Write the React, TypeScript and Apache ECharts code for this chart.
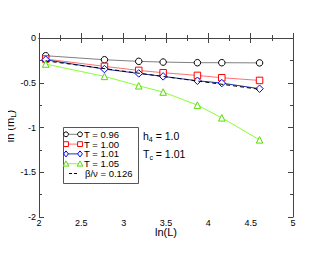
import React, { useEffect, useRef } from "react";
import * as echarts from "echarts";

const lnL = [2.079, 2.773, 3.178, 3.466, 3.871, 4.159, 4.605];
const t096 = [-0.198, -0.243, -0.261, -0.269, -0.276, -0.276, -0.278];
const t100 = [-0.235, -0.317, -0.362, -0.388, -0.418, -0.444, -0.474];
const t101 = [-0.243, -0.347, -0.396, -0.429, -0.478, -0.504, -0.567];
const t105 = [-0.291, -0.429, -0.534, -0.604, -0.75, -0.892, -1.138];
const fitX = [2.079, 4.605];
const fitY = [-0.255, -0.573];
const seriesNames = ["T = 0.96", "T = 1.00", "T = 1.01", "T = 1.05", "β/ν = 0.126"];

const FONT = "Liberation Sans";

const COLORS = ["#000000", "#ff0000", "#0000ff", "#55dd00"];
const LINECOLORS = ["#808080", "#ff7070", "#2233aa", "#88ff33"];
const SYMBOLS = ["circle", "rect", "diamond", "triangle"];

function legendMarker(kind: number, cx: number, cy: number, color: string) {
  const s = 2.4;
  const style = { fill: "#fff", stroke: color, lineWidth: 1 };
  if (kind === 0) return { type: "circle", shape: { cx, cy, r: s }, style, z: 101 };
  if (kind === 1) return { type: "rect", shape: { x: cx - s, y: cy - s, width: 2 * s, height: 2 * s }, style, z: 101 };
  if (kind === 2)
    return {
      type: "polygon",
      shape: { points: [[cx, cy - s - 0.6], [cx + s, cy], [cx, cy + s + 0.6], [cx - s, cy]] },
      style,
      z: 101,
    };
  return {
    type: "polygon",
    shape: { points: [[cx, cy - s - 0.4], [cx + s + 0.4, cy + s], [cx - s - 0.4, cy + s]] },
    style,
    z: 101,
  };
}

export default function App() {
  const ref = useRef<HTMLDivElement>(null);
  useEffect(() => {
    const chart = echarts.init(ref.current!, null, { renderer: "svg" });
    const pts = (ys: number[]) => lnL.map((x, i) => [x, ys[i]]);
    const axisCommon = {
      axisLine: { show: true, lineStyle: { color: "#444", width: 1 } },
      axisTick: { show: true, inside: true, length: 5, lineStyle: { color: "#444" } },
      minorTick: { show: true, splitNumber: 2, length: 3, lineStyle: { color: "#444" } },
      splitLine: { show: false },
    };
    const xBase = { ...axisCommon, type: "value" as const, min: 2, max: 5, interval: 0.5 };
    const yBase = { ...axisCommon, type: "value" as const, min: -2, max: 0, interval: 0.5 };
    const mk = (i: number, ys: number[]) => ({
      name: seriesNames[i],
      type: "line",
      data: pts(ys),
      symbol: SYMBOLS[i],
      symbolSize: i === 2 ? 7.5 : 6.5,
      itemStyle: { color: "#ffffff", borderColor: COLORS[i], borderWidth: 1 },
      lineStyle: { color: LINECOLORS[i], width: 1 },
    });

    const legendLeft = 63.5;
    const legendTop = 127.5;
    const rowY = [134.3, 144.1, 153.9, 163.7, 173.5];
    const legendItems: any[] = [
      {
        type: "rect",
        shape: { x: legendLeft, y: legendTop, width: 75, height: 56 },
        style: { fill: "#fff", stroke: "#555", lineWidth: 1 },
        z: 100,
      },
    ];
    for (let i = 0; i < 4; i++) {
      legendItems.push({
        type: "line",
        shape: { x1: 66, y1: rowY[i], x2: 80, y2: rowY[i] },
        style: { stroke: LINECOLORS[i], lineWidth: 1 },
        z: 101,
      });
      legendItems.push(legendMarker(i, 66, rowY[i], COLORS[i]));
      legendItems.push(legendMarker(i, 80, rowY[i], COLORS[i]));
    }
    legendItems.push({
      type: "line",
      shape: { x1: 69, y1: rowY[4], x2: 77, y2: rowY[4] },
      style: { stroke: "#000", lineWidth: 1, lineDash: [3, 2] },
      z: 101,
    });
    for (let i = 0; i < 5; i++) {
      legendItems.push({
        type: "text",
        x: i === 4 ? 85 : 84,
        y: rowY[i],
        style: {
          text: seriesNames[i],
          verticalAlign: "middle",
          fontSize: 9.5,
          lineHeight: 9,
          fontFamily: FONT,
          fill: "#000",
        },
        z: 101,
      });
    }

    chart.setOption({
      animation: false,
      textStyle: { fontFamily: FONT },
      grid: { left: 39, right: 37, top: 38, bottom: 38 },
      xAxis: [
        {
          ...xBase,
          position: "bottom",
          axisLabel: { fontSize: 9, color: "#000", margin: 1, fontFamily: FONT },
        },
        { ...xBase, position: "top", axisLabel: { show: false } },
      ],
      yAxis: [
        {
          ...yBase,
          position: "left",
          axisLabel: { fontSize: 9, color: "#000", margin: 3, fontFamily: FONT },
        },
        { ...yBase, position: "right", axisLabel: { show: false } },
      ],
      series: [
        mk(0, t096),
        mk(1, t100),
        mk(2, t101),
        mk(3, t105),
        {
          name: seriesNames[4],
          type: "line",
          data: fitX.map((x, i) => [x, fitY[i]]),
          symbol: "none",
          itemStyle: { color: "#000" },
          lineStyle: { color: "#000", width: 1, type: [4, 3] },
          z: 5,
        },
      ],
      graphic: [
        ...legendItems,
        {
          type: "text",
          x: 143,
          y: 136,
          style: {
            text: "{a|h}{s|4}{a| = 1.0}",
            verticalAlign: "middle",
            rich: {
              a: { fontSize: 10.5, fontFamily: FONT, fill: "#000" },
              s: { fontSize: 7, fontFamily: FONT, fill: "#000", padding: [6, 0, 0, 0] },
            },
          },
        },
        {
          type: "text",
          x: 143,
          y: 154,
          style: {
            text: "{a|T}{s|c}{a| = 1.01}",
            verticalAlign: "middle",
            rich: {
              a: { fontSize: 10.5, fontFamily: FONT, fill: "#000" },
              s: { fontSize: 7, fontFamily: FONT, fill: "#000", padding: [6, 0, 0, 0] },
            },
          },
        },
        {
          type: "text",
          x: 166,
          y: 232,
          style: {
            text: "ln(L)",
            align: "center",
            verticalAlign: "middle",
            fontSize: 11,
            fontFamily: FONT,
            fill: "#000",
          },
        },
        {
          type: "text",
          x: 10,
          y: 126,
          rotation: Math.PI / 2,
          style: {
            text: "{a|ln (m}{s|L}{a|)}",
            align: "center",
            verticalAlign: "middle",
            rich: {
              a: { fontSize: 11, fontFamily: FONT, fill: "#000" },
              s: { fontSize: 8, fontFamily: FONT, fill: "#000", padding: [6, 0, 0, 0] },
            },
          },
        },
      ],
    });
    return () => chart.dispose();
  }, []);
  return <div ref={ref} style={{ width: 330, height: 255, margin: -8 }} />;
}
